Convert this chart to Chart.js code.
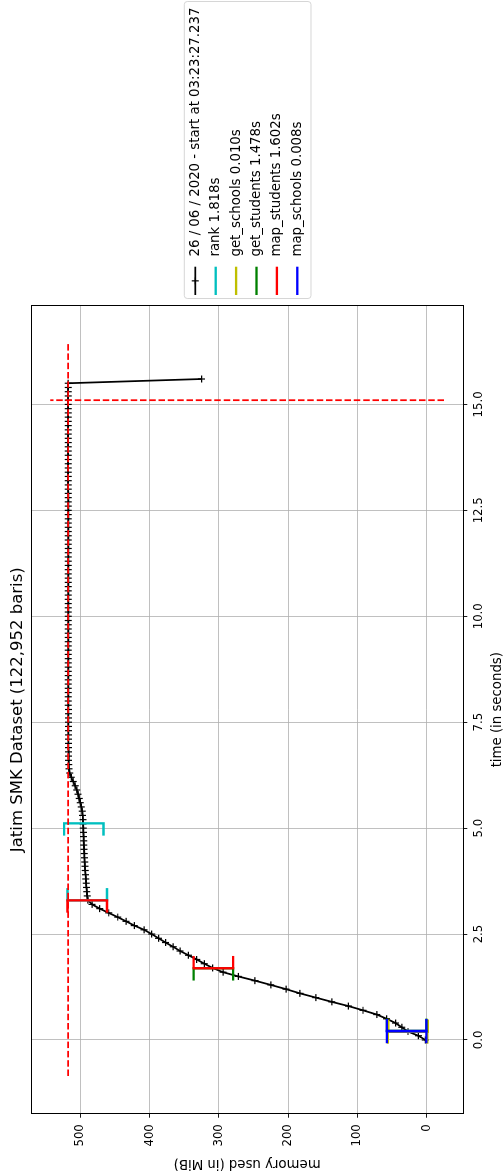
<!DOCTYPE html>
<html>
<head>
<meta charset="utf-8">
<script src="https://cdn.jsdelivr.net/npm/chart.js@4.4.1/dist/chart.umd.min.js"></script>
<style>
  html, body { margin: 0; padding: 0; background: #fff; overflow: hidden; }
  body { width: 504px; height: 1176px; position: relative; }
  /* the figure is drawn landscape and turned a quarter turn */
  #wrap {
    position: absolute; left: -336px; top: 336px;
    width: 1176px; height: 504px;
    transform: rotate(-90deg); transform-origin: center;
  }
</style>
</head>
<body>
<div id="wrap"><canvas id="chart" width="1176" height="504"></canvas></div>
<script>
// sampled memory trace (seconds, MiB)
const TIME_S = [
  0.0, 0.1, 0.2, 0.3, 0.4, 0.5, 0.6, 0.7, 0.8, 0.9,
  1.0, 1.1, 1.2, 1.3, 1.4, 1.5, 1.6, 1.7, 1.8, 1.9,
  2.0, 2.1, 2.2, 2.3, 2.4, 2.5, 2.6, 2.7, 2.8, 2.9,
  3.0, 3.1, 3.2, 3.3, 3.4, 3.5, 3.6, 3.7, 3.8, 3.9,
  4.0, 4.1, 4.2, 4.3, 4.4, 4.5, 4.6, 4.7, 4.8, 4.9,
  5.0, 5.1, 5.2, 5.3, 5.4, 5.5, 5.6, 5.7, 5.8, 5.9,
  6.0, 6.1, 6.2, 6.3, 6.4, 6.5, 6.6, 6.7, 6.8, 6.9,
  7.0, 7.1, 7.2, 7.3, 7.4, 7.5, 7.6, 7.7, 7.8, 7.9,
  8.0, 8.1, 8.2, 8.3, 8.4, 8.5, 8.6, 8.7, 8.8, 8.9,
  9.0, 9.1, 9.2, 9.3, 9.4, 9.5, 9.6, 9.7, 9.8, 9.9,
  10.0, 10.1, 10.2, 10.3, 10.4, 10.5, 10.6, 10.7, 10.8, 10.9,
  11.0, 11.1, 11.2, 11.3, 11.4, 11.5, 11.6, 11.7, 11.8, 11.9,
  12.0, 12.1, 12.2, 12.3, 12.4, 12.5, 12.6, 12.7, 12.8, 12.9,
  13.0, 13.1, 13.2, 13.3, 13.4, 13.5, 13.6, 13.7, 13.8, 13.9,
  14.0, 14.1, 14.2, 14.3, 14.4, 14.5, 14.6, 14.7, 14.8, 14.9,
  15.0, 15.1, 15.2, 15.3, 15.4, 15.5, 15.6
];
const MEMORY_MIB = [
  2, 12, 27, 36, 45, 58, 72, 92, 113, 137,
  160, 183, 203, 225, 248, 272, 294, 309, 321, 332,
  344, 356, 366, 377, 387, 397, 408, 422, 434, 446,
  459, 472, 483, 489, 490.1, 490.6, 491.1, 491.6, 492.1, 492.5,
  492.9, 493.3, 493.7, 494.0, 494.3, 494.6, 494.9, 495.1, 495.3, 495.5,
  495.7, 496.0, 496.3, 496.7, 497.3, 498.5, 500.0, 501.6, 503.2, 505.1,
  507.5, 510.2, 513.0, 515.3, 516.4, 516.8, 516.9, 517.0, 517.0, 517.1,
  517.1, 517.1, 517.1, 517.2, 517.2, 517.2, 517.2, 517.2, 517.2, 517.3,
  517.3, 517.3, 517.3, 517.3, 517.3, 517.3, 517.3, 517.3, 517.3, 517.3,
  517.3, 517.3, 517.3, 517.3, 517.3, 517.3, 517.3, 517.3, 517.4, 517.4,
  517.4, 517.4, 517.4, 517.4, 517.4, 517.4, 517.4, 517.4, 517.4, 517.4,
  517.4, 517.4, 517.4, 517.4, 517.4, 517.4, 517.4, 517.4, 517.4, 517.4,
  517.4, 517.4, 517.4, 517.4, 517.4, 517.4, 517.4, 517.4, 517.4, 517.4,
  517.5, 517.5, 517.5, 517.5, 517.5, 517.5, 517.5, 517.5, 517.5, 517.5,
  517.5, 517.5, 517.5, 517.5, 517.5, 517.5, 517.5, 517.5, 517.5, 517.5,
  517.5, 517.6, 517.5, 517.5, 517.5, 517.5, 325
];
const TRACE_LABEL = "26 / 06 / 2020 - start at 03:23:27.237";

// profiled functions: name, start/end time (s), memory at start/end (MiB)
const FUNC_NAMES = ["rank", "get_schools", "get_students", "map_students", "map_schools"];
const FUNC_START = [3.295, 0.193, 0.215, 1.693, 0.205];
const FUNC_END = [5.113, 0.203, 1.693, 3.295, 0.213];
const FUNC_MEM_START = [490, 27, 29, 308, 28.9];
const FUNC_MEM_END = [495, 27.5, 308, 490, 28.9];
const FUNC_COLORS = ["#00bfbf", "#bfbf00", "#008000", "#ff0000", "#0000ff"];

// extents of the two max-memory guide lines, as drawn before rescaling
const MAX_LINE_TIME_SPAN = [-0.85, 16.45];
const MAX_LINE_MEM_SPAN = [-25, 543.5];

const TIME_TICKS = [0, 2.5, 5, 7.5, 10, 12.5, 15];
const MEM_TICKS = [0, 100, 200, 300, 400, 500];
const TIME_LIMITS = [-1.74, 17.33];
const MEM_LIMITS = [-52.8, 571.2];

// bracket size (memory_profiler style)
const BRACKET_HALF = 28.5;
const BRACKET_LEG = 0.29;

Chart.defaults.font.family = '"DejaVu Sans", sans-serif';
Chart.defaults.color = "#000";

const datasets = [];
datasets.push({
  label: TRACE_LABEL,
  data: TIME_S.map((t, i) => ({ x: t, y: MEMORY_MIB[i] })),
  showLine: true,
  borderColor: "#000",
  borderWidth: 1.75,
  pointStyle: "cross",
  pointRadius: 3.5,
  pointBorderWidth: 1.2,
  pointBorderColor: "#000",
  pointBackgroundColor: "#000",
  legendMarker: true
});

FUNC_NAMES.forEach((name, i) => {
  const ts = FUNC_START[i], te = FUNC_END[i];
  const ms = FUNC_MEM_START[i], me = FUNC_MEM_END[i];
  const common = { showLine: true, borderColor: FUNC_COLORS[i], borderWidth: 2.33, pointRadius: 0, tension: 0 };
  datasets.push(Object.assign({
    label: name + " " + (te - ts).toFixed(3) + "s",
    data: [
      { x: ts + BRACKET_LEG, y: ms + BRACKET_HALF }, { x: ts, y: ms + BRACKET_HALF },
      { x: ts, y: ms - BRACKET_HALF }, { x: ts + BRACKET_LEG, y: ms - BRACKET_HALF }
    ]
  }, common));
  datasets.push(Object.assign({
    data: [
      { x: te - BRACKET_LEG, y: me + BRACKET_HALF }, { x: te, y: me + BRACKET_HALF },
      { x: te, y: me - BRACKET_HALF }, { x: te - BRACKET_LEG, y: me - BRACKET_HALF }
    ]
  }, common));
});

const maxMem = Math.max(...MEMORY_MIB);
const maxT = TIME_S[MEMORY_MIB.indexOf(maxMem)];
const dashed = { showLine: true, borderColor: "#ff0000", borderWidth: 1.75, borderDash: [6.5, 2.8], pointRadius: 0 };
datasets.push(Object.assign({ data: MAX_LINE_TIME_SPAN.map(t => ({ x: t, y: maxMem })) }, dashed));
datasets.push(Object.assign({ data: MAX_LINE_MEM_SPAN.map(m => ({ x: maxT, y: m })) }, dashed));

// later datasets on top, like matplotlib
datasets.forEach((d, i) => { d.order = -i; });

const frame = {
  id: "frame",
  afterDatasetsDraw(chart) {
    const { ctx, chartArea: a } = chart;
    ctx.save();
    ctx.strokeStyle = "#000";
    ctx.lineWidth = 1;
    ctx.strokeRect(Math.round(a.left) + 0.5, Math.round(a.top) + 0.5,
      Math.round(a.right - a.left), Math.round(a.bottom - a.top));
    ctx.restore();
  }
};

const legendBox = {
  id: "legendBox",
  afterDraw(chart) {
    const { ctx, chartArea: a } = chart;
    const items = chart.data.datasets.filter(d => d.label);
    const rowH = 20.4;
    const x0 = a.right + 6.7, w = 297;
    const cy = (a.top + a.bottom) / 2;
    const h = 126.7, y0 = cy - h / 2;
    ctx.save();
    ctx.globalAlpha = 0.8;
    ctx.fillStyle = "#fff";
    ctx.strokeStyle = "#cccccc";
    ctx.lineWidth = 1;
    ctx.beginPath();
    ctx.roundRect(x0 + 0.5, y0 + 0.5, w, h, 3);
    ctx.fill();
    ctx.stroke();
    ctx.globalAlpha = 1;
    ctx.font = '13.3px "DejaVu Sans"';
    ctx.textBaseline = "middle";
    ctx.textAlign = "left";
    items.forEach((d, i) => {
      const y = y0 + 11.5 + i * rowH;
      const hx0 = x0 + 4, hx1 = x0 + 32.3;
      ctx.strokeStyle = d.borderColor;
      ctx.lineWidth = d.borderWidth;
      ctx.beginPath();
      ctx.moveTo(hx0, y);
      ctx.lineTo(hx1, y);
      ctx.stroke();
      if (d.legendMarker) {
        const mx = (hx0 + hx1) / 2, r = d.pointRadius;
        ctx.lineWidth = d.pointBorderWidth;
        ctx.beginPath();
        ctx.moveTo(mx - r, y); ctx.lineTo(mx + r, y);
        ctx.moveTo(mx, y - r); ctx.lineTo(mx, y + r);
        ctx.stroke();
      }
      ctx.fillStyle = "#000";
      ctx.fillText(d.label, x0 + 42.5, y);
    });
    ctx.restore();
  }
};

const gridStyle = { color: "#b0b0b0", lineWidth: 0.8, tickColor: "#000", tickLength: 4, tickWidth: 0.9 };

new Chart(document.getElementById("chart"), {
  type: "scatter",
  data: { datasets },
  options: {
    responsive: false,
    devicePixelRatio: 1,
    animation: false,
    events: [],
    layout: { padding: { right: 305.7 } },
    plugins: {
      legend: { display: false },
      tooltip: { enabled: false },
      title: {
        display: true,
        text: "Jatim SMK Dataset (122,952 baris)",
        font: { size: 16.5, weight: "normal" },
        color: "#000",
        padding: { top: 8, bottom: 3.2 },
        fullSize: false
      }
    },
    scales: {
      x: {
        type: "linear",
        position: "bottom",
        min: TIME_LIMITS[0],
        max: TIME_LIMITS[1],
        afterBuildTicks: s => { s.ticks = TIME_TICKS.map(v => ({ value: v })); },
        afterFit: s => { s.height = 40.7; },
        ticks: { callback: v => Number(v).toFixed(1), font: { size: 11.7 }, color: "#000", padding: 5, maxRotation: 0, autoSkip: false },
        grid: gridStyle,
        border: { display: false },
        title: { display: true, text: "time (in seconds)", font: { size: 13.3 }, color: "#000", padding: { top: 0, bottom: -1.5 } }
      },
      y: {
        type: "linear",
        position: "left",
        min: MEM_LIMITS[0],
        max: MEM_LIMITS[1],
        afterBuildTicks: s => { s.ticks = MEM_TICKS.map(v => ({ value: v })); },
        afterFit: s => { s.width = 62.3; },
        ticks: { callback: v => String(v), font: { size: 11.7 }, color: "#000", padding: 6.5, autoSkip: false },
        grid: gridStyle,
        border: { display: false },
        title: { display: true, text: "memory used (in MiB)", font: { size: 13.3 }, color: "#000", padding: { top: 4.7, bottom: 0 } }
      }
    }
  },
  plugins: [frame, legendBox]
});
</script>
</body>
</html>
